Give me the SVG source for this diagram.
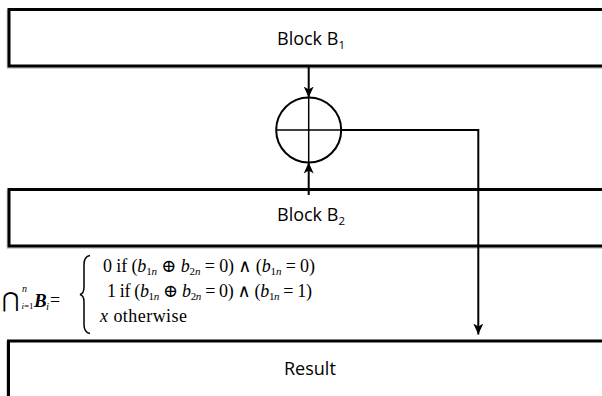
<svg xmlns="http://www.w3.org/2000/svg" width="602" height="396" viewBox="0 0 602 396">
<style>
.box{fill:#fff;stroke:#000;stroke-width:3}
.shadow{fill:none;stroke:#000;stroke-width:3;opacity:.18}
.lbl{font-family:"Open Sans","Liberation Sans",sans-serif;font-size:18px;fill:#000}
.sub{font-size:11.5px}
.conn{fill:none;stroke:#000;stroke-width:2}
.thin{fill:none;stroke:#000;stroke-width:1.5}
.m{font-family:"Liberation Serif","DejaVu Serif",serif;font-size:18px;fill:#000}
.it{font-style:italic}
.ms{font-size:11px}
</style>
<defs>
<marker id="ah" markerUnits="userSpaceOnUse" markerWidth="12" markerHeight="11" refX="11" refY="5.5" orient="auto">
<path d="M0,0.5 L11,5.5 L0,10.5 L3,5.5 z" fill="#000"/>
</marker>
</defs>
<g id="block-b1">
<rect class="shadow" x="8" y="11" width="620" height="56.5"/>
<rect class="box" x="9" y="9.5" width="620" height="56.5"/>
<text class="lbl" x="277" y="45">Block B<tspan class="sub" dy="4">1</tspan></text>
</g>
<g id="block-b2">
<rect class="shadow" x="8" y="191" width="620" height="56.5"/>
<rect class="box" x="9" y="189.5" width="620" height="56.5"/>
<text class="lbl" x="277" y="221">Block B<tspan class="sub" dy="4">2</tspan></text>
</g>
<g id="result">
<rect class="shadow" x="7.5" y="342.5" width="620" height="80"/>
<rect class="box" x="8.5" y="341" width="620" height="80"/>
<text class="lbl" x="284" y="375">Result</text>
</g>
<g id="xor">
<circle cx="308.7" cy="130" r="32.5" fill="#fff" stroke="#000" stroke-width="2"/>
<line class="thin" x1="276.2" y1="130" x2="341.2" y2="130"/>
<line class="thin" x1="308.7" y1="97.5" x2="308.7" y2="162.5"/>
</g>
<g id="connectors">
<line class="conn" x1="308.7" y1="66" x2="308.7" y2="97.5" marker-end="url(#ah)"/>
<line class="conn" x1="308.7" y1="195" x2="308.7" y2="162.5" marker-end="url(#ah)"/>
<polyline class="conn" points="341.2,130 478.3,130 478.3,334.5" marker-end="url(#ah)"/>
</g>
<g id="formula">
<text class="m" x="1.5" y="306.5" style="font-family:'DejaVu Serif',serif;font-size:21px">⋂</text>
<text class="m it ms" x="22" y="291.5" style="font-size:10px">n</text>
<text class="m ms" x="21.5" y="309" style="font-size:9px"><tspan class="it">i</tspan>=1</text>
<text class="m" x="34" y="306.5" style="font-weight:bold;font-style:italic;font-size:19px">B</text>
<text class="m it ms" x="46" y="309.5">i</text>
<text class="m" x="50" y="305.5" style="font-size:18px">=</text>
<path d="M90,255.5 Q84,256.5 84,264.5 L84,287 Q84,293.5 80,294.5 Q84,295.5 84,302 L84,324.5 Q84,332.5 90,333.5" fill="none" stroke="#000" stroke-width="1.5"/>
<text class="m" x="103" y="272" textLength="212" lengthAdjust="spacing">0 if (<tspan class="it">b</tspan><tspan class="ms" dy="3">1<tspan class="it">n</tspan></tspan><tspan dy="-3"> ⊕ </tspan><tspan class="it">b</tspan><tspan class="ms" dy="3">2<tspan class="it">n</tspan></tspan><tspan dy="-3"> = 0) ∧ (</tspan><tspan class="it">b</tspan><tspan class="ms" dy="3">1<tspan class="it">n</tspan></tspan><tspan dy="-3"> = 0)</tspan></text>
<text class="m" x="107" y="297" textLength="205" lengthAdjust="spacing">1 if (<tspan class="it">b</tspan><tspan class="ms" dy="3">1<tspan class="it">n</tspan></tspan><tspan dy="-3"> ⊕ </tspan><tspan class="it">b</tspan><tspan class="ms" dy="3">2<tspan class="it">n</tspan></tspan><tspan dy="-3"> = 0) ∧ (</tspan><tspan class="it">b</tspan><tspan class="ms" dy="3">1<tspan class="it">n</tspan></tspan><tspan dy="-3"> = 1)</tspan></text>
<text class="m" x="100" y="322" textLength="87" lengthAdjust="spacing"><tspan class="it">x</tspan> otherwise</text>
</g>
</svg>
